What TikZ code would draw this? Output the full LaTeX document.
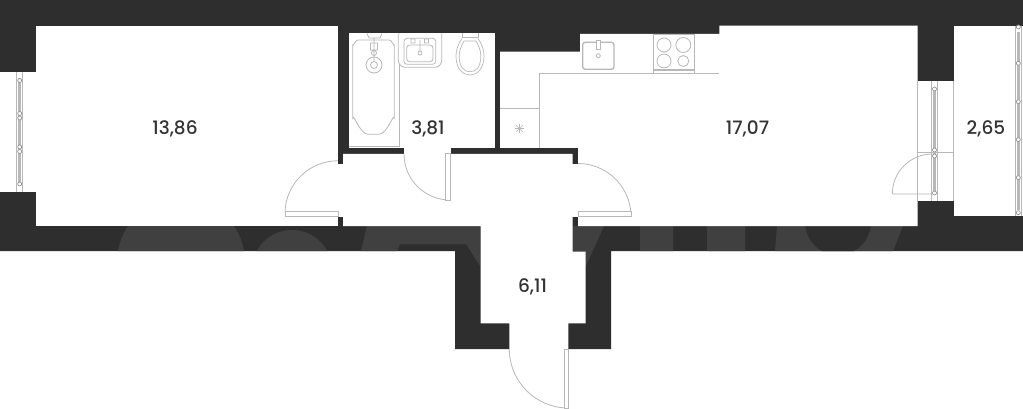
\documentclass[tikz,border=0pt]{standalone}
\usepackage{fontspec}
\setmainfont{Poppins}[UprightFont=* Medium]
\definecolor{wallcol}{HTML}{2E2E2E}
\definecolor{glowcol}{HTML}{404040}
\definecolor{fixcol}{HTML}{B8B8B8}
\definecolor{textcol}{HTML}{333333}
\begin{document}
\begin{tikzpicture}[x=1pt, y=-1pt, wall/.style = {fill=wallcol, draw=none}, room/.style = {fill=white, draw=none}, glow/.style = {fill=glowcol, draw=none},
                        fixture/.style = {draw=fixcol, line width=0.8pt}, leaf/.style = {draw=fixcol, line width=0.8pt, fill=white},
                        pane/.style = {draw=fixcol, line width=3pt}, pin/.style = {draw=fixcol!80!black, fill=white, line width=0.7pt},
                        area/.style = {text=textcol, font=\fontsize{18.5}{20}\selectfont, inner sep=0pt, anchor=base}]
    \useasboundingbox (0,0) rectangle (1023,409);
    \fill[white] (0,0) rectangle (1023,409);
    \path[wall] (0,0) -- (1023,0) -- (1023,251) -- (611,251) -- (611,349) -- (455,349) -- (455,251) -- (0,251) -- cycle;
    % watermark on the walls
    \begin{scope}
        \clip (0,0) -- (1023,0) -- (1023,251) -- (611,251) -- (611,349) -- (455,349) -- (455,251) -- (0,251) -- cycle;
        \path[glow] (181,262) circle (64pt) (292,270) circle (40pt);
        \path[glow] (367,226) -- (480,226) -- (480,266) -- (466,244) -- (400,244) -- (397,251) -- (361,251) -- cycle;
        \path[glow] (572,226) -- (604,226) -- (585,268) -- (572,251) -- cycle;
        \path[glow] (640,226) rectangle (673,251) (707,226) rectangle (745,251);
        \path[glow] (777,226) -- (903,226) -- (893,251) -- (775,251) -- cycle;
        \path[wall] (838,222) circle (33pt);
    \end{scope}
    \path[room] (36,25.7) rectangle (338,226);
    \path[room] (-2,72.5) rectangle (36.5,191.5);
    \path[room] (349.3,33.5) rectangle (494.5,148.5);
    \path[room] (404,147) rectangle (450.5,155);
    \path[room] (337.5,164) rectangle (344,216.7);
    \path[room] (343,154) -- (572.5,154) -- (572.5,251.7) -- (585.7,251.7) -- (585.7,323.3) -- (568.3,323.3) -- (568.3,352) -- (509.3,352)
        -- (509.3,323.3) -- (480.5,323.3) -- (480.5,226) -- (343,226) -- cycle;
    \path[room] (571.5,164) rectangle (579,216.7);
    \path[room] (500,51.7) -- (580,51.7) -- (580,34) -- (719.3,34) -- (719.3,25.7) -- (917.7,25.7) -- (917.7,226) -- (578,226) -- (578,148) -- (500,148) -- cycle;
    \path[room] (917,81) rectangle (954,200.7);
    \path[room] (953.5,25.7) rectangle (1025,215.7);
    % windows
    \foreach \wx/\wa/\wb/\wpins in {19.7/72.5/191.5/{80.5,113.5,118,147,151.5,184}, 934.5/81/200.7/{89,150,156,193}, 1018.3/25.7/215.7/{27,63.3,101.7,139.7,177.7,212.7}} {
        \draw[fixture] (\wx-3,\wa) -- (\wx-3,\wb) (\wx+3,\wa) -- (\wx+3,\wb);
        \draw[pane] (\wx,\wa+6) -- (\wx,\wb-6);
        \foreach \py in \wpins
            \draw[pin] (\wx,\py) circle (2pt);
    }
    \draw[fixture] (917.7,81) -- (917.7,200.7) (953.5,81) -- (953.5,200.7) (917.7,152.7) -- (953.5,152.7);
    % doors
    \draw[fixture] (509.3,349) arc[start angle=180, end angle=270, radius=59pt];
    \draw[leaf] (564.5,349) rectangle (568.3,408);
    \draw[fixture] (404,154) arc[start angle=180, end angle=270, radius=46pt];
    \draw[leaf] (445.7,153.5) rectangle (450.5,200);
    \draw[fixture] (578,163.5) arc[start angle=90, end angle=3, radius=53pt];
    \draw[leaf] (578,211) rectangle (631,216.7);
    \draw[fixture] (285,211) arc[start angle=177, end angle=90, radius=53pt];
    \draw[leaf] (285,211) rectangle (338,216.7);
    \draw[fixture] (892.3,194) arc[start angle=180, end angle=90, radius=40pt] (892.3,194) -- (932.7,194);
    % kitchen
    \draw[fixture] (719.3,73.3) -- (539.5,73.3) -- (539.5,148) (500,108.3) -- (539.5,108.3);
    \foreach \ang in {0,45,...,135}
        \draw[fixture, line width=0.6pt] (519.5,128.5) ++(\ang:4.5pt) -- ++(\ang+180:9pt);
    \draw[fixture, rounded corners=2.5pt, line width=1.3pt] (582.7,42.3) rectangle (614,69.3);
    \draw[fixture, fill=white] (596.7,40.3) rectangle (600,49);
    \draw[fixture] (598.3,55.7) circle (2pt);
    \draw[fixture, line width=1.3pt] (653.3,34.3) rectangle (694.3,70);
    \draw[fixture] (653.3,70) -- (653.3,73.3) (694.3,70) -- (694.3,73.3);
    \draw[fixture] (664,45) circle (7pt) (683.3,45) circle (7.5pt) (664,61) circle (7pt) (683.3,61) circle (5.5pt);
    % bathroom
    \draw[fixture] (399,33.5) -- (399,146.7) -- (349.3,146.7);
    \draw[fixture] (358,40) -- (389.3,40) to[out=0, in=-90] (394.3,45) -- (394.3,119) to[out=90, in=0] (379,134.3) -- (368,134.3)
        to[out=180, in=90] (352.7,119) -- (352.7,45) to[out=-90, in=180] (358,40);
    \draw[fixture] (374,65) circle (8pt) (374,65) circle (3.5pt) (374,53) circle (2.5pt) (370.5,43) rectangle (377.5,50);
    \draw[fixture] (367,33.5) -- (369,38) -- (380,38) -- (382,33.5) (374,38) -- (374,62);
    \draw[fixture, fill=white, rounded corners=7pt] (398.3,33.5) -- (398.3,67.3) -- (441.7,67.3) -- (441.7,33.5);
    \draw[fixture, rounded corners=3pt] (404,38.3) rectangle (435.7,64.3) (406.7,45) rectangle (433,61.7);
    \draw[fixture] (420,40) -- (420,51) (420,53) circle (2pt) (411,39) rectangle (415,43) (424.5,39) rectangle (428.5,43);
    \draw[fixture] (462,33.5) -- (462,37.3) -- (478,37.3) -- (478,33.5);
    \draw[fixture, line width=0.7pt] (462,38.5) .. controls (458,44) and (456,50) .. (456,56) .. controls (456,69) and (463,75) .. (470,75) .. controls (477,75) and (484,69) .. (484,56) .. controls (484,50) and (482,44) .. (478,38.5);
    \draw[fixture, line width=0.7pt] (464,41) .. controls (461,46) and (459.2,51) .. (459.2,56) .. controls (459.2,67) and (464,71.8) .. (470,71.8) .. controls (476,71.8) and (480.8,67) .. (480.8,56) .. controls (480.8,51) and (479,46) .. (476,41) -- cycle;
    % areas
    \node[area] (living) at (175,135) {13,86};
    \node[area] (bath) at (428,135) {3,81};
    \node[area] (kitchen) at (747.5,135) {17,07};
    \node[area] (balcony) at (986,135) {2,65};
    \node[area] (hall) at (532.5,292) {6,11};
\end{tikzpicture}
\end{document}
